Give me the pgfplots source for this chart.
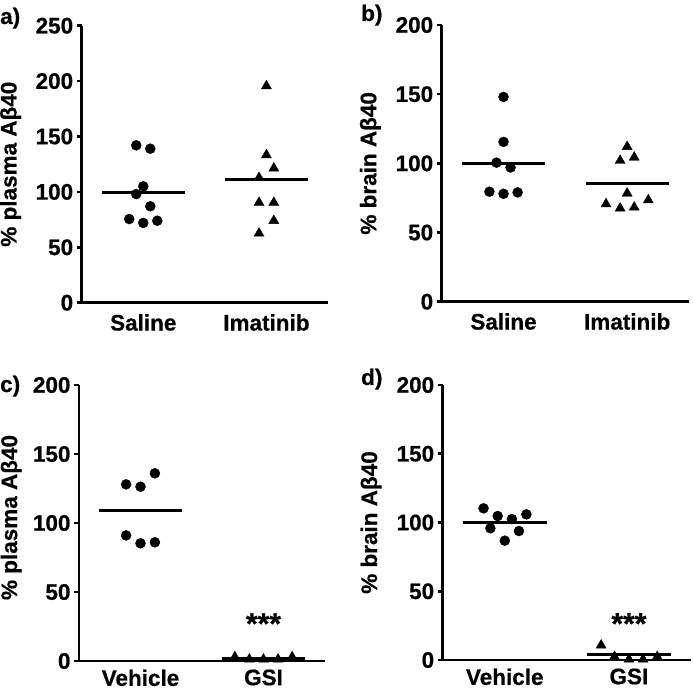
\documentclass[border=0pt]{standalone}
\usepackage{fontspec}
\setmainfont{Liberation Sans}[BoldFeatures={FakeBold=0.6}]
\usepackage{pgfplots}
\pgfplotsset{compat=1.18}

\newcommand{\lbl}{\fontsize{22.5}{27}\selectfont\bfseries}

\pgfplotsset{
  panel/.style={
    scale only axis,
    anchor=south west,
    axis lines=left,
    axis line style={-, line width=2.6pt, black},
    xmin=0.5, xmax=2.5, ymin=0,
    xtick={1,2},
    x tick style={draw=none},
    y tick style={line width=2.6pt, black},
    tick align=outside,
    major tick length=5pt,
    tick label style={font=\lbl},
    /pgf/number format/assume math mode=true,
    every axis y label/.style={at={(axis description cs:-0.245,0.5)}, rotate=90, anchor=south, inner sep=0pt, font=\lbl},
    clip=false,
  },
  dots/.style={only marks, mark=*, mark size=5pt, black},
  tris/.style={only marks, mark=triangle*, mark size=5.8pt, black},
  meanline/.style={black, line width=2.6pt},
}

\begin{document}
\begin{tikzpicture}
\path[use as bounding box] (0,0) rectangle (693pt,690pt);

% a) plasma, imatinib
\begin{axis}[panel, at={(81.7pt,387.3pt)}, width=246.3pt, height=277pt,
  ymax=250, ytick={0,50,...,250}, xticklabels={Saline,Imatinib},
  xticklabel style={yshift=-3pt},
  ylabel={\% plasma Aβ40}]
\addplot[dots] coordinates {(0.943,142) (1.057,139) (1,105) (0.943,98) (1.057,87) (0.886,75.5) (1,72) (1.114,74)};
\addplot[tris] coordinates {(2,195.6) (2,133.3) (2.06,121.3) (1.94,112.8) (1.94,90.3) (2.06,90.3) (2.06,74) (1.94,62.6)};
\addplot[meanline] coordinates {(0.663,99.5) (1.337,99.5)};
\addplot[meanline] coordinates {(1.663,111.4) (2.337,111.4)};
\end{axis}

% b) brain, imatinib
\begin{axis}[panel, at={(441.7pt,388.3pt)}, width=247.3pt, height=276.7pt,
  ymax=200, ytick={0,50,...,200}, xticklabels={Saline,Imatinib},
  xticklabel style={yshift=-3pt},
  ylabel={\% brain Aβ40}]
\addplot[dots] coordinates {(1,148) (1,115.5) (0.943,100.5) (1.057,97) (0.886,79.5) (1,78) (1.114,79)};
\addplot[tris] coordinates {(2,112) (1.943,102) (2.057,104.3) (2,78.3) (1.829,70.6) (1.943,67.5) (2.057,68.2) (2.171,73.5)};
\addplot[meanline] coordinates {(0.663,100) (1.337,100)};
\addplot[meanline] coordinates {(1.663,85.3) (2.337,85.3)};
\end{axis}

% c) plasma, GSI
\begin{axis}[panel, at={(79pt,29pt)}, width=246pt, height=276pt,
  ymax=200, ytick={0,50,...,200}, xticklabels={Vehicle,GSI},
  xticklabel style={yshift=0pt},
  every axis y label/.append style={at={(axis description cs:-0.232,0.52)}},
  ylabel={\% plasma Aβ40}]
\addplot[dots] coordinates {(0.883,128) (1,126.3) (1.117,136) (0.883,91) (1,85.3) (1.117,86)};
\addplot[tris] coordinates {(1.767,2.9) (1.885,1.2) (2,1.2) (2.118,1.2) (2.233,2.9)};
\addplot[meanline] coordinates {(0.663,108.9) (1.337,108.9)};
\addplot[meanline] coordinates {(1.663,1.8) (2.337,1.8)};
\node[anchor=base, font=\fontsize{30}{34}\selectfont\bfseries] at (axis cs:2,19.6) {***};
\end{axis}

% d) brain, GSI
\begin{axis}[panel, at={(442.7pt,30pt)}, width=248.3pt, height=275pt,
  ymax=200, ytick={0,50,...,200}, xticklabels={Vehicle,GSI},
  xticklabel style={yshift=0pt},
  ylabel={\% brain Aβ40}]
\addplot[dots] coordinates {(0.829,110.3) (0.884,95.8) (0.943,104.7) (1,86.8) (1.057,102.5) (1.114,93.8) (1.174,105.9)};
\addplot[tris] coordinates {(1.776,10.7) (1.884,2.4) (2,0.5) (2.114,0.5) (2.228,2.4)};
\addplot[meanline] coordinates {(0.663,100) (1.337,100)};
\addplot[meanline] coordinates {(1.663,4) (2.337,4)};
\node[anchor=base, font=\fontsize{30}{34}\selectfont\bfseries] at (axis cs:2,19) {***};
\end{axis}

\node[anchor=base west, inner sep=0pt, font=\lbl] at (0pt,666pt) {a)};
\node[anchor=base west, inner sep=0pt, font=\lbl] at (361pt,669pt) {b)};
\node[anchor=base west, inner sep=0pt, font=\lbl] at (0pt,298pt) {c)};
\node[anchor=base west, inner sep=0pt, font=\lbl] at (361pt,305pt) {d)};
\end{tikzpicture}
\end{document}
